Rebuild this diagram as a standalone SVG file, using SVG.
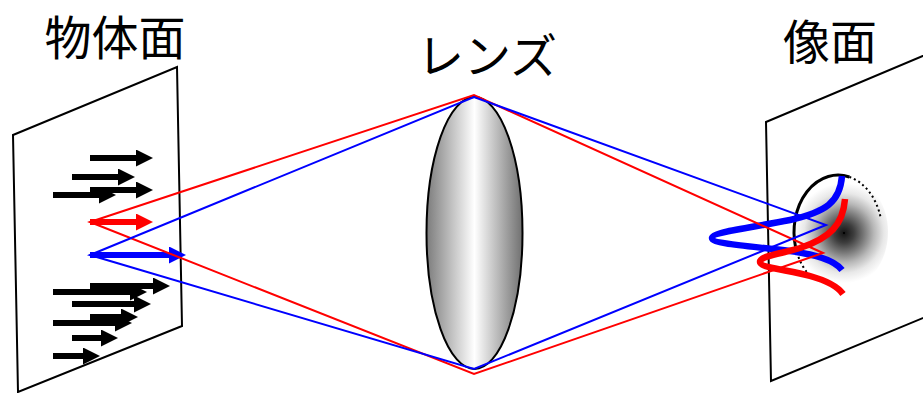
<svg xmlns="http://www.w3.org/2000/svg" width="923" height="393" viewBox="0 0 923 393">
  <style>
    .label { font-family: "Noto Sans CJK JP", "Noto Sans CJK SC", sans-serif; font-size: 47px; fill: #000; text-anchor: middle; }
    .plane { fill: none; stroke: #000; stroke-width: 2; stroke-linejoin: miter; }
    .arrow-k { stroke: #000; stroke-width: 6; fill: none; marker-end: url(#head-k); }
    .ray { fill: none; stroke-width: 2; }
    .profile { fill: none; stroke-width: 6.5; stroke-linecap: butt; }
  </style>
  <defs>
    <marker id="head-k" markerUnits="userSpaceOnUse" markerWidth="17" markerHeight="17" refX="5" refY="8.5" orient="auto" viewBox="0 0 17 17">
      <path d="M0,0 L17,8.5 L0,17 Z" fill="#000"/>
    </marker>
    <marker id="head-r" markerUnits="userSpaceOnUse" markerWidth="17" markerHeight="17" refX="5" refY="8.5" orient="auto" viewBox="0 0 17 17">
      <path d="M0,0 L17,8.5 L0,17 Z" fill="#ff0000"/>
    </marker>
    <marker id="head-b" markerUnits="userSpaceOnUse" markerWidth="17" markerHeight="17" refX="5" refY="8.5" orient="auto" viewBox="0 0 17 17">
      <path d="M0,0 L17,8.5 L0,17 Z" fill="#0000ff"/>
    </marker>
    <linearGradient id="lens-fill" x1="0" y1="0" x2="1" y2="0">
      <stop offset="0" stop-color="#7c7c7c"/>
      <stop offset="0.5" stop-color="#ffffff"/>
      <stop offset="1" stop-color="#707070"/>
    </linearGradient>
    <radialGradient id="spot-fill" gradientUnits="userSpaceOnUse" cx="844" cy="233" r="50">
      <stop offset="0" stop-color="#141414"/>
      <stop offset="0.2" stop-color="#3e3e3e"/>
      <stop offset="0.4" stop-color="#7a7a7a"/>
      <stop offset="0.6" stop-color="#b8b8b8"/>
      <stop offset="0.8" stop-color="#e8e8e8"/>
      <stop offset="1" stop-color="#ffffff"/>
    </radialGradient>
  </defs>

  <rect width="923" height="393" fill="#fff"/>

  <!-- titles -->
  <g id="titles">
    <text class="label" x="115" y="55">物体面</text>
    <text class="label" x="487" y="73">レンズ</text>
    <text class="label" x="830" y="59">像面</text>
  </g>

  <!-- object plane with its field of arrows -->
  <g id="object-plane">
    <polygon class="plane" points="13,135 177,67 182,326 18,392"/>
    <g id="object-arrows">
      <line class="arrow-k" x1="90" y1="158" x2="141" y2="158"/>
      <line class="arrow-k" x1="72" y1="177" x2="123" y2="177"/>
      <line class="arrow-k" x1="90" y1="190" x2="141" y2="190"/>
      <line class="arrow-k" x1="53" y1="195" x2="104" y2="195"/>
      <line class="arrow-k" x1="90" y1="286" x2="158" y2="286"/>
      <line class="arrow-k" x1="53" y1="292" x2="135" y2="292"/>
      <line class="arrow-k" x1="72" y1="304" x2="139" y2="304"/>
      <line class="arrow-k" x1="90" y1="317" x2="126" y2="317"/>
      <line class="arrow-k" x1="53" y1="323" x2="120" y2="323"/>
      <line class="arrow-k" x1="72" y1="338" x2="106" y2="338"/>
      <line class="arrow-k" x1="53" y1="356" x2="88" y2="356"/>
      <line x1="90" y1="222" x2="141" y2="222" stroke="#ff0000" stroke-width="6" marker-end="url(#head-r)"/>
      <line x1="90" y1="255" x2="174" y2="255" stroke="#0000ff" stroke-width="6" marker-end="url(#head-b)"/>
    </g>
  </g>

  <!-- lens -->
  <g id="lens">
    <ellipse cx="474.5" cy="233" rx="48" ry="136" fill="url(#lens-fill)" stroke="#000" stroke-width="2"/>
  </g>

  <!-- image plane with the blurred spot and intensity profiles -->
  <g id="image-plane">
    <polygon class="plane" points="766,122 930,53 935,313 771,381"/>
    <ellipse cx="840" cy="232" rx="48" ry="58" fill="url(#spot-fill)"/>
    <path d="M795.5,246.7 A44,57 0 0 1 849.4,177" fill="none" stroke="#000" stroke-width="3"/>
    <path d="M849.4,177 A44,57 0 0 1 880.5,217" fill="none" stroke="#000" stroke-width="2" stroke-dasharray="2 3"/>
    <path d="M809.7,275.7 A44,57 0 0 1 795.5,246.7" fill="none" stroke="#000" stroke-width="2" stroke-dasharray="2 3"/>
    <rect x="843" y="232" width="2" height="2" fill="#000"/>
    <path class="profile" stroke="#0000ff" d="M842,176 C840,202 826,212 790,220 C750,228 712,232 712,238 C712,244 750,246 790,251 C820,255 836,262 842,270"/>
    <path class="profile" stroke="#ff0000" d="M845,199 C843,225 830,238 800,248 C780,254 760,256 760,262 C760,268 790,270 810,276 C828,281 838,287 843,294"/>
  </g>

  <!-- ray bundles through the lens -->
  <g id="connectors">
    <path class="ray" stroke="#ff0000" d="M90,222 L474,95 L823,253 L474,374 Z"/>
    <path class="ray" stroke="#0000ff" d="M90,255 L474,97 L826,225 L474,369 Z"/>
  </g>
</svg>
